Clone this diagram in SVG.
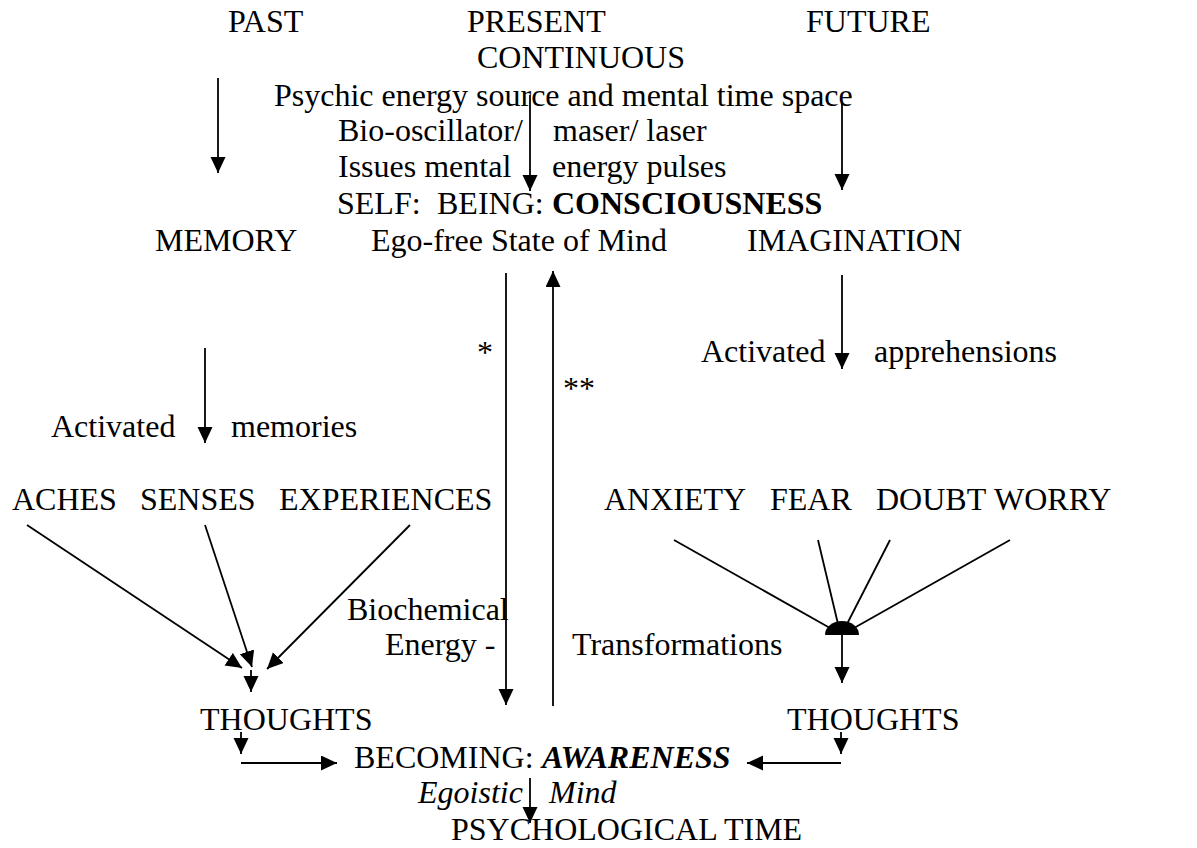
<svg xmlns="http://www.w3.org/2000/svg" width="1197" height="848" viewBox="0 0 1197 848">
<style>
  text { font-family: "Liberation Serif", "Times New Roman", serif; font-size: 32px; fill: #000; }
  .b { font-weight: bold; }
  .i { font-style: italic; }
  .bi { font-weight: bold; font-style: italic; }
  .ln { stroke: #000; stroke-width: 1.8; fill: none; }
  .ar { stroke: #000; stroke-width: 1.8; fill: none; marker-end: url(#ah); }
</style>
<defs>
  <marker id="ah" markerUnits="userSpaceOnUse" markerWidth="17" markerHeight="16" refX="16" refY="7.5" orient="auto">
    <path d="M0,0 L16,7.5 L0,15 Z" fill="#000"/>
  </marker>
</defs>
<rect width="1197" height="848" fill="#fff"/>

<g id="past"><text x="228" y="32">PAST</text></g>
<g id="present"><text x="467" y="32">PRESENT</text><text x="477" y="68">CONTINUOUS</text></g>
<g id="future"><text x="806" y="32">FUTURE</text></g>
<g id="source">
  <text x="274" y="106">Psychic energy source and mental time space</text>
  <text y="141"><tspan x="338">Bio-oscillator/</tspan><tspan x="553">maser/ laser</tspan></text>
  <text y="177"><tspan x="338">Issues mental</tspan><tspan x="552">energy pulses</tspan></text>
</g>
<g id="self"><text y="214"><tspan x="337">SELF:</tspan><tspan x="437">BEING:</tspan><tspan x="552" class="b">CONSCIOUSNESS</tspan></text></g>
<g id="memory"><text x="155" y="251">MEMORY</text></g>
<g id="egofree"><text x="371" y="251">Ego-free State of Mind</text></g>
<g id="imagination"><text x="747" y="251">IMAGINATION</text></g>
<g id="star1"><text x="477" y="363">*</text></g>
<g id="star2"><text x="563" y="399">**</text></g>
<g id="act-appr"><text y="362"><tspan x="701">Activated</tspan><tspan x="874">apprehensions</tspan></text></g>
<g id="act-mem"><text y="437"><tspan x="51">Activated</tspan><tspan x="231">memories</tspan></text></g>
<g id="aches"><text x="12" y="510">ACHES</text></g>
<g id="senses"><text x="140" y="510">SENSES</text></g>
<g id="experiences"><text x="279" y="510">EXPERIENCES</text></g>
<g id="anxiety"><text x="604" y="510">ANXIETY</text></g>
<g id="fear"><text x="770" y="510">FEAR</text></g>
<g id="doubt"><text x="876" y="510">DOUBT</text></g>
<g id="worry"><text x="994" y="510">WORRY</text></g>
<g id="biochem">
  <text x="347" y="620">Biochemical</text>
  <text x="385" y="655">Energy -</text>
  <text x="572" y="655">Transformations</text>
</g>
<g id="thoughts-left"><text x="200" y="730">THOUGHTS</text></g>
<g id="thoughts-right"><text x="787" y="730">THOUGHTS</text></g>
<g id="becoming"><text y="768"><tspan x="354">BECOMING:</tspan><tspan x="542" class="bi">AWARENESS</tspan></text></g>
<g id="egoistic"><text y="803" class="i"><tspan x="418">Egoistic</tspan><tspan x="549">Mind</tspan></text></g>
<g id="psychtime"><text x="451" y="840">PSYCHOLOGICAL TIME</text></g>

<g id="connectors">
  <line class="ar" x1="218" y1="78" x2="218" y2="173"/>
  <line class="ar" x1="530" y1="95" x2="530" y2="191"/>
  <line class="ar" x1="842" y1="103" x2="842" y2="190"/>
  <line class="ar" x1="205" y1="348" x2="205" y2="443"/>
  <line class="ar" x1="842" y1="275" x2="842" y2="369"/>
  <line class="ar" x1="506" y1="273" x2="506" y2="705"/>
  <line class="ar" x1="553" y1="706" x2="553" y2="271"/>
  <line class="ar" x1="27" y1="525" x2="242" y2="668"/>
  <line class="ar" x1="205" y1="525" x2="252" y2="667"/>
  <line class="ar" x1="410" y1="525" x2="267" y2="669"/>
  <line class="ar" x1="251" y1="670" x2="251" y2="692"/>
  <line class="ln" x1="674" y1="540" x2="830" y2="628"/>
  <line class="ln" x1="818" y1="540" x2="838" y2="624"/>
  <line class="ln" x1="890" y1="540" x2="847" y2="624"/>
  <line class="ln" x1="1010" y1="540" x2="854" y2="628"/>
  <path d="M825,635 A17,14 0 0 1 859,635 Z" fill="#000"/>
  <line class="ar" x1="842" y1="635" x2="842" y2="683"/>
  <line class="ar" x1="241" y1="732" x2="241" y2="754"/>
  <line class="ar" x1="241" y1="763" x2="337" y2="763"/>
  <line class="ar" x1="841" y1="732" x2="841" y2="754"/>
  <line class="ar" x1="841" y1="763" x2="747" y2="763"/>
  <line class="ar" x1="530" y1="778" x2="530" y2="823"/>
</g>
</svg>
